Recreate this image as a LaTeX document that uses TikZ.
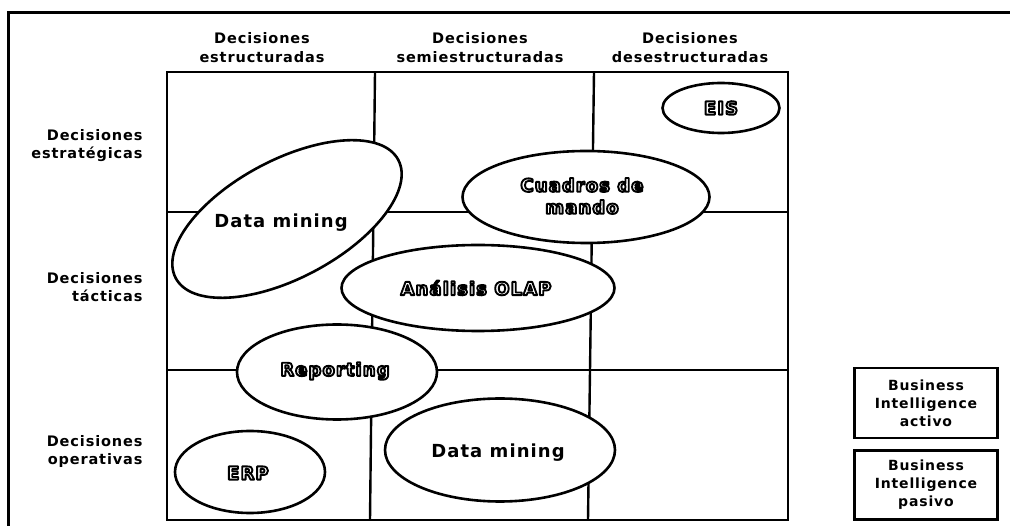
\documentclass[tikz,border=0pt]{standalone}
\usepackage{fontspec}
\setmainfont{DejaVu Sans}[LetterSpace=6]
\usetikzlibrary{shapes.geometric}
% white letters with a black rim
\newcommand\hollow[1]{\special{pdf:literal direct 2 Tr 1.9 w 0 G 1 j}#1\special{pdf:literal direct 0 Tr}}

\begin{document}
\begin{tikzpicture}[x=1pt, y=-1pt,
    blob/.style={ellipse, draw, fill=white, line width=2.6pt, inner sep=0pt},
    hdr/.style={font=\bfseries\fontsize{14.5}{19}\selectfont, align=center},
    side/.style={font=\bfseries\fontsize{14.5}{18}\selectfont, align=right, anchor=east},
    big/.style={font=\bfseries\fontsize{18}{22}\selectfont, align=center},
    inv/.style={big, text=white},
    keybox/.style={draw, line width=2.6pt, minimum width=143pt, align=center,
      font=\bfseries\fontsize{14}{18}\selectfont}]
  \useasboundingbox (0,0) rectangle (1010,526);
  % Frame
  \draw[line width=3pt] (8,526) -- (8,13) -- (1010,13);
  % Grid
  \draw[line width=2.6pt] (167,72) rectangle (788,520);
  \draw[line width=2.4pt] (167,212) -- (788,212) (167,370) -- (788,370);
  \draw[line width=2.4pt] (375,72) -- (370,520) (594,72) -- (588,520);
  % Column headers
  \node[hdr] (colA) at (262,48) {Decisiones\\estructuradas};
  \node[hdr] (colB) at (480,48) {Decisiones\\semiestructuradas};
  \node[hdr] (colC) at (690,48) {Decisiones\\desestructuradas};
  % Row labels
  \node[side] (rowA) at (146,146) {Decisiones\\estratégicas};
  \node[side] (rowB) at (146,287) {Decisiones\\tácticas};
  \node[side] (rowC) at (146,452) {Decisiones\\operativas};
  % Tools
  \node[blob, rotate=28, minimum width=252pt, minimum height=118pt] (dmA) at (287,219) {};
  \node[big] (dmAtxt) at (281,223) {Data mining};
  \node[blob, minimum width=117pt, minimum height=50pt] (eis) at (721,108) {};
  \node[inv] (eistxt) at (eis) {\hollow{EIS}};
  \node[blob, minimum width=247pt, minimum height=92pt] (cdm) at (586,197) {};
  \node[inv] (cdmtxt) at (582,196) {\hollow{Cuadros de}\\\hollow{mando}};
  \node[blob, minimum width=273pt, minimum height=86pt] (olap) at (478,288) {};
  \node[inv] (olaptxt) at (476,288) {\hollow{Análisis OLAP}};
  \node[blob, minimum width=200pt, minimum height=95pt] (rep) at (337,372) {};
  \node[inv] (reptxt) at (335,371) {\hollow{Reporting}};
  \node[blob, minimum width=230pt, minimum height=103pt] (dmB) at (500,450) {};
  \node[big] (dmBtxt) at (498,453) {Data mining};
  \node[blob, minimum width=150pt, minimum height=82pt] (erp) at (250,472) {};
  \node[inv] (erptxt) at (248,473) {\hollow{ERP}};
  % Legend
  \node[keybox, minimum height=70pt] (activo) at (926,403) {Business\\Intelligence\\activo};
  \node[keybox, minimum height=69pt] (pasivo) at (926,485) {Business\\Intelligence\\pasivo};
\end{tikzpicture}
\end{document}
